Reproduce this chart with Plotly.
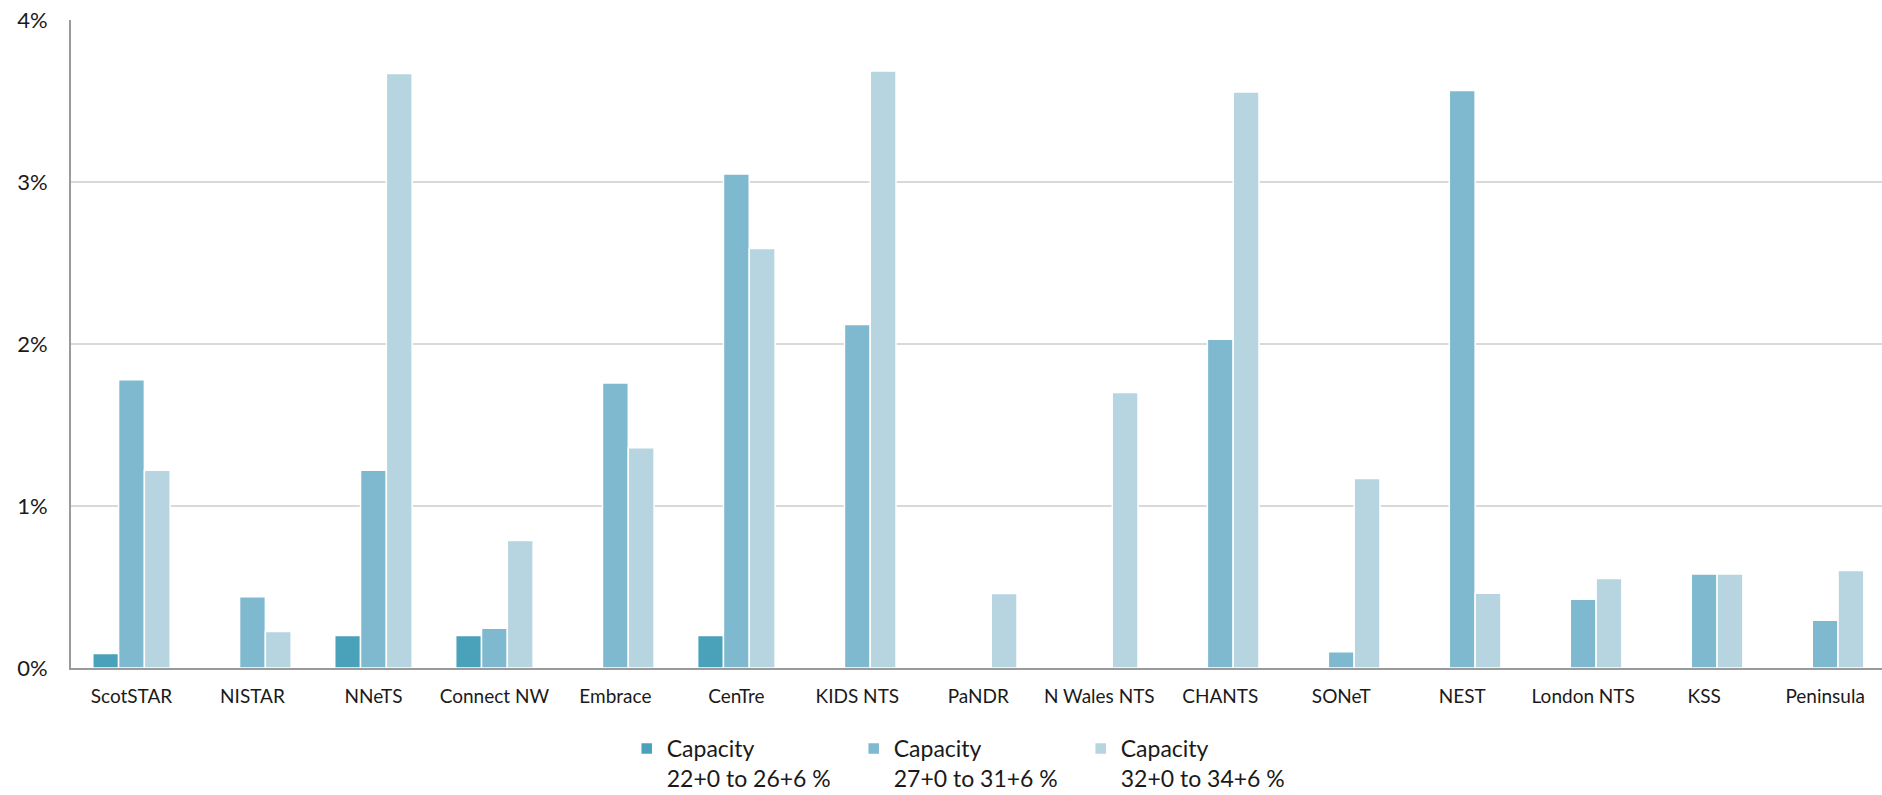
import plotly.graph_objects as go

categories = ["ScotSTAR", "NISTAR", "NNeTS", "Connect NW", "Embrace", "CenTre",
              "KIDS NTS", "PaNDR", "N Wales NTS", "CHANTS", "SONeT", "NEST",
              "London NTS", "KSS", "Peninsula"]

series_names = ["Capacity<br>22+0 to 26+6 %",
                "Capacity<br>27+0 to 31+6 %",
                "Capacity<br>32+0 to 34+6 %"]

cap_22_26 = [0.09, 0, 0.20, 0.20, 0, 0.20, 0, 0, 0, 0, 0, 0, 0, 0, 0]
cap_27_31 = [1.78, 0.44, 1.22, 0.245, 1.76, 3.05, 2.12, 0, 0, 2.03, 0.10, 3.565, 0.425, 0.58, 0.295]
cap_32_34 = [1.22, 0.225, 3.67, 0.787, 1.36, 2.59, 3.685, 0.46, 1.70, 3.555, 1.17, 0.462, 0.552, 0.58, 0.602]

y_tickvals = [0, 1, 2, 3, 4]
y_ticktext = ["0%", "1%", "2%", "3%", "4%"]

colors = ["#4AA2BA", "#7EB9CF", "#B6D5E0"]

fig = go.Figure()
for name, vals, col in zip(series_names, [cap_22_26, cap_27_31, cap_32_34], colors):
    fig.add_trace(go.Bar(
        x=categories, y=vals, name=name,
        marker=dict(color=col, line=dict(color="#ffffff", width=1.5)),
    ))

fig.update_layout(
    width=1882, height=795, autosize=False,
    margin=dict(l=71, r=0, t=20, b=127, autoexpand=False),
    paper_bgcolor="#ffffff", plot_bgcolor="#ffffff",
    barmode="group", bargap=0.36, bargroupgap=0,
    font=dict(family="Lato, 'Open Sans', sans-serif", color="#1a1a1a"),
    legend=dict(
        orientation="h", xref="container", yref="container",
        x=0.3330, xanchor="left", y=0.0855, yanchor="top",
        font=dict(size=23, color="#1a1a1a"), valign="top",
        itemwidth=30, entrywidth=182, entrywidthmode="pixels",
        traceorder="normal", bgcolor="rgba(0,0,0,0)",
    ),
    showlegend=True,
)

fig.update_xaxes(
    type="category", range=[-0.5, 14.47], automargin=False,
    showline=True, linecolor="#9a9a9a", linewidth=2,
    showgrid=False, ticks="", tickfont=dict(size=19, color="#1a1a1a"),
    ticklabelstandoff=10, fixedrange=True,
)
fig.update_yaxes(
    range=[0, 4], tickvals=y_tickvals, ticktext=y_ticktext, automargin=False,
    showline=True, linecolor="#9a9a9a", linewidth=2,
    showgrid=True, gridcolor="#d9d9d9", gridwidth=1.5,
    zeroline=False, ticks="", tickfont=dict(size=22, color="#1a1a1a"),
    ticklabelstandoff=17, fixedrange=True,
)

fig.write_html(
    "out.html",
    config={"displayModeBar": False},
    post_script="document.body.style.margin='0';document.body.style.overflow='hidden';",
)
